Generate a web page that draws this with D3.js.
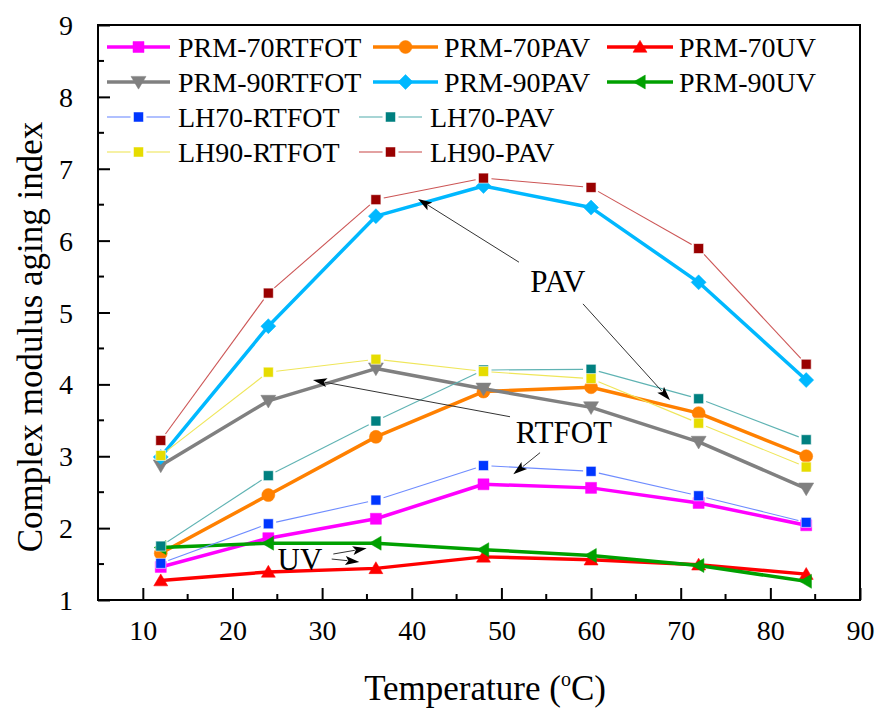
<!DOCTYPE html>
<html><head><meta charset="utf-8">
<script src="https://cdn.jsdelivr.net/npm/d3@7/dist/d3.min.js"></script>
<style>
html,body{margin:0;padding:0;background:#fff;}
svg text{font-family:"Liberation Serif","Times New Roman",serif;fill:#000;}
</style></head>
<body><svg id="c" width="879" height="708"></svg>
<script>
// ---- data ----
const temperatures = [12, 24, 36, 48, 60, 72, 84];
const prm70RTFOT = [1.46, 1.86, 2.13, 2.61, 2.56, 2.35, 2.04];
const prm70PAV   = [1.65, 2.46, 3.27, 3.90, 3.96, 3.60, 3.00];
const prm70UV    = [1.27, 1.39, 1.44, 1.60, 1.56, 1.49, 1.36];
const prm90RTFOT = [2.87, 3.77, 4.22, 3.94, 3.68, 3.20, 2.55];
const prm90PAV   = [2.99, 4.81, 6.34, 6.76, 6.46, 5.42, 4.06];
const prm90UV    = [1.73, 1.79, 1.79, 1.70, 1.62, 1.48, 1.26];
const lh70RTFOT  = [1.51, 2.06, 2.39, 2.87, 2.79, 2.45, 2.08];
const lh70PAV    = [1.75, 2.73, 3.49, 4.20, 4.21, 3.80, 3.23];
const lh90RTFOT  = [3.01, 4.17, 4.35, 4.18, 4.08, 3.46, 2.85];
const lh90PAV    = [3.22, 5.27, 6.57, 6.87, 6.74, 5.89, 4.28];

const seriesNames = ["PRM-70RTFOT","PRM-70PAV","PRM-70UV","PRM-90RTFOT","PRM-90PAV","PRM-90UV",
                     "LH70-RTFOT","LH70-PAV","LH90-RTFOT","LH90-PAV"];
const seriesValues = [prm70RTFOT, prm70PAV, prm70UV, prm90RTFOT, prm90PAV, prm90UV,
                      lh70RTFOT, lh70PAV, lh90RTFOT, lh90PAV];
const xTicks = [10,20,30,40,50,60,70,80,90];
const yTicks = [1,2,3,4,5,6,7,8,9];

// annotations in data units: label, text position, arrows [x1,y1,x2,y2]
const annotations = [
  {text:"PAV",   x:56.3, y:5.29, arrows:[[51.96,5.70,40.70,6.58],[59.10,5.12,68.81,3.78]]},
  {text:"RTFOT", x:56.97,y:3.18, arrows:[[50.96,3.55,28.98,4.06],[54.31,3.05,51.33,2.75]]},
  {text:"UV",    x:27.53,y:1.42, arrows:[[31.25,1.64,34.97,1.72],[31.07,1.57,34.15,1.53]]}
];

// ---- styles ----
const styles = [
  {line:"#ff00ff", fill:"#ff00ff", w:3.5, shape:"square", size:11, thin:false},
  {line:"#ff8000", fill:"#ff8000", w:3.5, shape:"circle", size:13, thin:false},
  {line:"#ff0000", fill:"#ff0000", w:3.5, shape:"triUp", size:14, thin:false},
  {line:"#808080", fill:"#808080", w:3.5, shape:"triDown", size:15, thin:false},
  {line:"#00b8ff", fill:"#00b8ff", w:3.5, shape:"diamond", size:15, thin:false},
  {line:"#00a000", fill:"#00a000", w:3.5, shape:"triLeft", size:14, thin:false},
  {line:"#6f8cff", fill:"#0036ff", w:1.1, shape:"square", size:10, thin:true},
  {line:"#5fb3b3", fill:"#008080", w:1.1, shape:"square", size:10, thin:true},
  {line:"#efe65a", fill:"#e6dc00", w:1.1, shape:"square", size:10, thin:true},
  {line:"#cc5555", fill:"#990000", w:1.1, shape:"square", size:10, thin:true}
];

function shapePath(shape, s){
  const h = s/2;
  switch(shape){
    case "square": return `M${-h},${-h}H${h}V${h}H${-h}Z`;
    case "diamond": return `M0,${-h}L${h},0L0,${h}L${-h},0Z`;
    case "circle": return `M${h},0A${h},${h} 0 1,1 ${-h},0A${h},${h} 0 1,1 ${h},0Z`;
    case "triUp": return `M0,${-h*0.95}L${h},${h*0.75}L${-h},${h*0.75}Z`;
    case "triDown": return `M0,${h*0.95}L${h},${-h*0.75}L${-h},${-h*0.75}Z`;
    case "triLeft": return `M${-h*0.95},0L${h*0.75},${-h}L${h*0.75},${h}Z`;
  }
}

const svg = d3.select("#c");
const L = 98, R = 860, T = 25, B = 600;
const x = d3.scaleLinear().domain([5, 90]).range([L, R]);
const y = d3.scaleLinear().domain([1, 9]).range([B, T]);

// axes (ticks inward)
const xAxis = svg.append("g").attr("transform", `translate(0,${B})`)
  .call(d3.axisBottom(x).tickValues(xTicks).tickSize(-12).tickPadding(20).tickFormat(d3.format("d")));
const yAxis = svg.append("g").attr("transform", `translate(${L},0)`)
  .call(d3.axisLeft(y).tickValues(yTicks).tickSize(-12).tickPadding(25).tickFormat(d3.format("d")));
// minor ticks
const xMinor = d3.range(15, 90, 10);
const yMinor = d3.range(1.5, 9, 1);
svg.append("g").selectAll("line").data(xMinor).join("line")
  .attr("x1", d=>x(d)).attr("x2", d=>x(d)).attr("y1", B).attr("y2", B-6)
  .attr("stroke","#000").attr("stroke-width",2);
svg.append("g").selectAll("line").data(yMinor).join("line")
  .attr("x1", L).attr("x2", L+6).attr("y1", d=>y(d)).attr("y2", d=>y(d))
  .attr("stroke","#000").attr("stroke-width",2);

[xAxis, yAxis].forEach(g=>{
  g.select(".domain").remove();
  g.selectAll(".tick line").attr("stroke","#000").attr("stroke-width",2);
  g.selectAll(".tick text").attr("font-size",28).attr("font-family","Liberation Serif, serif").attr("fill","#000");
});
xAxis.selectAll(".tick text").attr("dy","0.71em");
yAxis.selectAll(".tick text").attr("dy","0.34em");

// frame
svg.append("rect").attr("x",L).attr("y",T).attr("width",R-L).attr("height",B-T)
  .attr("fill","none").attr("stroke","#000").attr("stroke-width",2);

// series
const line = d3.line().x(d=>x(d[0])).y(d=>y(d[1]));
const plot = svg.append("g");
seriesValues.forEach((vals, i)=>{
  const st = styles[i];
  const pts = temperatures.map((t,j)=>[t, vals[j]]);
  const g = plot.append("g");
  if(!st.thin){
    g.append("path").attr("d", line(pts)).attr("fill","none")
      .attr("stroke", st.line).attr("stroke-width", st.w).attr("stroke-linejoin","round");
  } else {
    const gap = 8;
    for(let j=0;j<pts.length-1;j++){
      const x1=x(pts[j][0]), y1=y(pts[j][1]), x2=x(pts[j+1][0]), y2=y(pts[j+1][1]);
      const dx=x2-x1, dy=y2-y1, len=Math.hypot(dx,dy);
      if(len<=2*gap) continue;
      const ux=dx/len, uy=dy/len;
      g.append("line").attr("x1",x1+ux*gap).attr("y1",y1+uy*gap)
        .attr("x2",x2-ux*gap).attr("y2",y2-uy*gap)
        .attr("stroke", st.line).attr("stroke-width", st.w);
    }
  }
  g.selectAll("path.m").data(pts).join("path").attr("class","m")
    .attr("transform", d=>`translate(${x(d[0])},${y(d[1])})`)
    .attr("d", shapePath(st.shape, st.size))
    .attr("fill", st.fill)
    .attr("stroke", st.thin ? "#fff" : st.fill).attr("stroke-width", st.thin ? 0.6 : 0.5);
});

// legend
const legCols = [
  {lx1:107, lx2:170, tx:178},
  {lx1:373, lx2:438, tx:444},
  {lx1:607, lx2:673, tx:679}
];
const legColsLow = [
  {lx1:107, lx2:170, tx:178},
  {lx1:359, lx2:422, tx:430}
];
const legend = svg.append("g");
seriesNames.forEach((name,i)=>{
  const st = styles[i];
  let row, col;
  if(i<6){ row = Math.floor(i/3); col = legCols[i%3]; }
  else { row = 2 + Math.floor((i-6)/2); col = legColsLow[(i-6)%2]; }
  const cy = 47 + row*35;
  const mx = (col.lx1+col.lx2)/2;
  const g = legend.append("g");
  if(!st.thin){
    g.append("line").attr("x1",col.lx1).attr("x2",col.lx2).attr("y1",cy).attr("y2",cy)
      .attr("stroke",st.line).attr("stroke-width",st.w);
  } else {
    g.append("line").attr("x1",col.lx1).attr("x2",mx-8).attr("y1",cy).attr("y2",cy)
      .attr("stroke",st.line).attr("stroke-width",st.w);
    g.append("line").attr("x1",mx+8).attr("x2",col.lx2).attr("y1",cy).attr("y2",cy)
      .attr("stroke",st.line).attr("stroke-width",st.w);
  }
  g.append("path").attr("transform",`translate(${mx},${cy})`).attr("d",shapePath(st.shape, st.size))
    .attr("fill",st.fill).attr("stroke", st.thin ? "#fff" : st.fill).attr("stroke-width",0.5);
  g.append("text").attr("x",col.tx).attr("y",cy).attr("dy","0.35em")
    .attr("font-size",28).text(name);
});

// annotations
const ann = svg.append("g");
annotations.forEach(a=>{
  ann.append("text").attr("x",x(a.x)).attr("y",y(a.y)).attr("text-anchor","middle")
    .attr("font-size",31).text(a.text);
  a.arrows.forEach(ar=>{
    const x1=x(ar[0]), y1=y(ar[1]), x2=x(ar[2]), y2=y(ar[3]);
    const dx=x2-x1, dy=y2-y1, len=Math.hypot(dx,dy), ux=dx/len, uy=dy/len;
    const hl = 14, hw = 4.5;
    const bx = x2-ux*hl, by = y2-uy*hl;
    ann.append("line").attr("x1",x1).attr("y1",y1).attr("x2",bx+ux*2).attr("y2",by+uy*2)
      .attr("stroke","#333").attr("stroke-width",1);
    ann.append("path")
      .attr("d",`M${x2},${y2}L${bx-uy*hw},${by+ux*hw}L${bx+ux*3},${by+uy*3}L${bx+uy*hw},${by-ux*hw}Z`)
      .attr("fill","#000");
  });
});

// axis titles
svg.append("text").attr("transform","translate(42,337) rotate(-90)").attr("text-anchor","middle")
  .attr("font-size",35).text("Complex modulus aging index");
const xt = svg.append("text").attr("x",485).attr("y",700).attr("text-anchor","middle").attr("font-size",35);
xt.append("tspan").text("Temperature (");
xt.append("tspan").attr("font-size",20).attr("dy",-14).text("o");
xt.append("tspan").attr("dy",14).text("C)");
</script></body></html>
